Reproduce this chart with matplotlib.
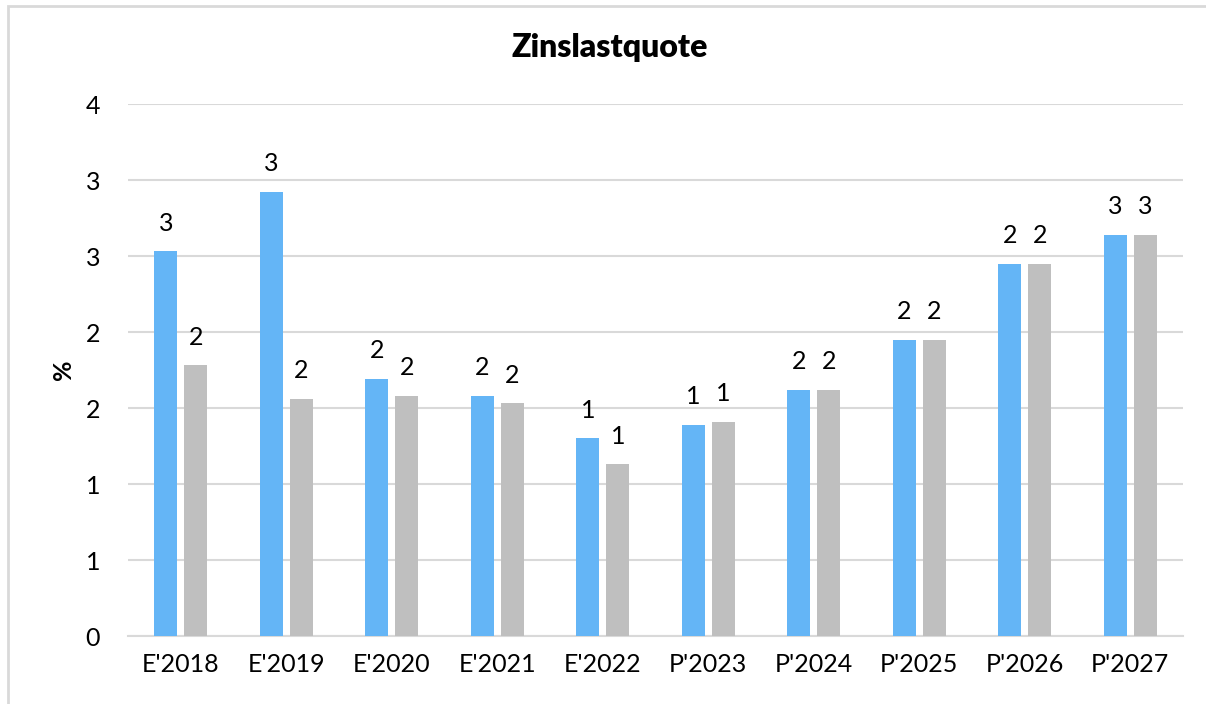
import numpy as np
import matplotlib.pyplot as plt
from matplotlib.patches import Rectangle

plt.rcParams['font.family'] = ['Lato', 'DejaVu Sans']

categories = ["E'2018", "E'2019", "E'2020", "E'2021", "E'2022",
              "P'2023", "P'2024", "P'2025", "P'2026", "P'2027"]
series_blue = [2.53, 2.92, 1.69, 1.58, 1.30, 1.39, 1.62, 1.95, 2.45, 2.64]
series_gray = [1.78, 1.56, 1.58, 1.53, 1.13, 1.41, 1.62, 1.95, 2.45, 2.64]
yticks = [0, 0.5, 1, 1.5, 2, 2.5, 3, 3.5]


def round_half_up(v):
    return str(int(np.floor(v + 0.5)))


fig = plt.figure(figsize=(12.06, 7.04), dpi=100)
ax = fig.add_axes([128 / 1206, 68 / 704, 1055 / 1206, 532 / 704])

# chart area border (clipped by the image on right/bottom)
fig.patches.append(Rectangle((8 / 1206, -0.05), 1.1, 1 - 6 / 704 + 0.05,
                             transform=fig.transFigure, fill=False,
                             edgecolor="#d9d9d9", linewidth=2))

x = np.arange(len(categories))
w = 0.222
off = 0.142
b1 = ax.bar(x - off, series_blue, w, color="#64b5f6", zorder=3)
b2 = ax.bar(x + off, series_gray, w, color="#bfbfbf", zorder=3)

for bars, vals in [(b1, series_blue), (b2, series_gray)]:
    for rect, v in zip(bars, vals):
        ax.annotate(round_half_up(v), (rect.get_x() + rect.get_width() / 2, v),
                    xytext=(0, 12), textcoords="offset points",
                    ha="center", va="bottom", fontsize=18, color="#000000")

ax.set_xlim(-0.5, len(categories) - 0.5)
ax.set_ylim(0, 3.5)
ax.set_yticks(yticks)
ax.set_yticklabels([round_half_up(t) for t in yticks])
ax.set_xticks(x)
ax.set_xticklabels(categories)
ax.tick_params(axis="both", length=0, labelsize=18, colors="#000000")
ax.tick_params(axis="y", pad=20)
ax.tick_params(axis="x", pad=12)
ax.grid(axis="y", color="#d9d9d9", linewidth=1.5, zorder=0)
for s in ["top", "right", "left"]:
    ax.spines[s].set_visible(False)
ax.spines["bottom"].set_color("#d9d9d9")
ax.spines["bottom"].set_linewidth(1.5)

ax.set_ylabel("%", fontsize=18, fontweight="bold", labelpad=8)
fig.text(610 / 1206, 1 - 48 / 704, "Zinslastquote", ha="center", va="center",
         fontsize=23, fontweight="heavy")

fig.savefig("out.png", dpi=100)
